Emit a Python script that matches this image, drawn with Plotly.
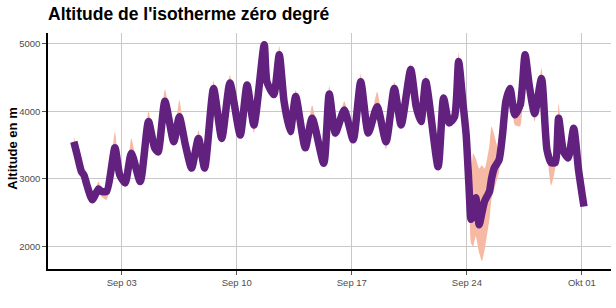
import plotly.graph_objects as go

# ---- data (time, isotherm altitude, ensemble min, ensemble max) ----
times = [
    "2023-08-31 02:00", "2023-08-31 07:00", "2023-08-31 13:00", "2023-08-31 17:00", "2023-08-31 21:00",
    "2023-09-01 05:00", "2023-09-01 14:00", "2023-09-01 18:00", "2023-09-02 02:00", "2023-09-02 14:00",
    "2023-09-02 21:00", "2023-09-03 05:00", "2023-09-03 14:00", "2023-09-04 03:00", "2023-09-04 15:00",
    "2023-09-05 00:00", "2023-09-05 05:00", "2023-09-05 15:00", "2023-09-06 04:00", "2023-09-06 12:00",
    "2023-09-06 21:00", "2023-09-07 06:00", "2023-09-07 16:00", "2023-09-08 01:00", "2023-09-08 14:00",
    "2023-09-09 02:00", "2023-09-09 14:00", "2023-09-10 05:00", "2023-09-10 15:00", "2023-09-11 01:00",
    "2023-09-11 16:00", "2023-09-11 20:00", "2023-09-12 06:00", "2023-09-12 14:00", "2023-09-12 21:00",
    "2023-09-13 06:00", "2023-09-13 14:00", "2023-09-14 04:00", "2023-09-14 14:00", "2023-09-15 07:00",
    "2023-09-15 15:00", "2023-09-16 00:00", "2023-09-16 13:00", "2023-09-17 02:00", "2023-09-17 13:00",
    "2023-09-18 00:00", "2023-09-18 13:00", "2023-09-19 02:00", "2023-09-19 14:00", "2023-09-20 00:00",
    "2023-09-20 14:00", "2023-09-20 22:00", "2023-09-21 05:00", "2023-09-21 12:00", "2023-09-22 06:00",
    "2023-09-22 14:00", "2023-09-22 22:00", "2023-09-23 06:00", "2023-09-23 12:00", "2023-09-23 18:00",
    "2023-09-23 23:00", "2023-09-24 03:00", "2023-09-24 06:00", "2023-09-24 09:00", "2023-09-24 13:00",
    "2023-09-24 18:00", "2023-09-24 22:00", "2023-09-25 02:00", "2023-09-25 09:00", "2023-09-25 12:00",
    "2023-09-25 16:00", "2023-09-25 23:00", "2023-09-26 04:00", "2023-09-26 09:00", "2023-09-26 15:00",
    "2023-09-26 22:00", "2023-09-27 06:00", "2023-09-27 13:00", "2023-09-27 19:00", "2023-09-28 03:00",
    "2023-09-28 13:00", "2023-09-28 21:00", "2023-09-29 03:00", "2023-09-29 09:00", "2023-09-29 14:00",
    "2023-09-29 21:00", "2023-09-30 04:00", "2023-09-30 12:00", "2023-09-30 19:00", "2023-10-01 00:00",
    "2023-10-01 03:00",
]

altitude = [
    3550, 3350, 3110, 3050, 2910,
    2690, 2850, 2815, 2815, 3460,
    3060, 2940, 3380, 2960, 3850,
    3460, 3400, 4150, 3550, 3920,
    3500, 3160, 3600, 3160, 4340,
    3600, 4420, 3650, 4390, 3800,
    4990, 4440, 4250, 4840, 4150,
    3700, 4220, 3460, 3900, 3230,
    4260, 3680, 4020, 3580, 4440,
    3680, 4070, 3550, 4340, 3800,
    4620, 4070, 3850, 4440, 3180,
    4200, 3830, 3920, 4740, 4150,
    3650, 2910, 2400, 2560, 2720,
    2320, 2500, 2670, 2815, 3000,
    3160, 3280, 3650, 4150, 4340,
    3950, 4100, 4840, 4390, 3970,
    4490, 3430, 3240, 3240, 3900,
    3410, 3310, 3750, 3140, 2790,
    2590,
]

alt_min = [
    3510, 3310, 3070, 3010, 2870,
    2650, 2780, 2740, 2690, 3400,
    3020, 2900, 3340, 2900, 3800,
    3420, 3360, 4100, 3510, 3880,
    3460, 3110, 3560, 3090, 4300,
    3540, 4380, 3600, 4350, 3680,
    4950, 4400, 4210, 4800, 4110,
    3660, 4180, 3420, 3860, 3190,
    4220, 3610, 3980, 3540, 4400,
    3640, 4030, 3440, 4300, 3760,
    4580, 4030, 3810, 4400, 3140,
    4160, 3790, 3880, 4700, 4110,
    3610, 2870, 2050, 2000, 2150,
    1900, 1780, 1950, 2400, 2700,
    2850, 3100, 3600, 4100, 4300,
    3800, 3780, 4800, 4350, 3850,
    4450, 3390, 2900, 3150, 3860,
    3370, 3250, 3710, 3100, 2750,
    2550,
]

alt_max = [
    3640, 3390, 3150, 3090, 2950,
    2730, 2960, 2870, 2860, 3700,
    3100, 2980, 3600, 3000, 4000,
    3500, 3440, 4330, 3590, 4170,
    3540, 3200, 3720, 3200, 4450,
    3640, 4540, 3690, 4450, 3840,
    5030, 4480, 4290, 4970, 4190,
    3740, 4320, 3500, 4090, 3270,
    4380, 3720, 4150, 3620, 4550,
    3720, 4290, 3590, 4440, 3840,
    4700, 4110, 3890, 4540, 3220,
    4260, 3870, 3960, 4870, 4190,
    3690, 2950, 3000, 3380, 3300,
    3150, 3200, 3150, 3500, 3780,
    3650, 3400, 3700, 4190, 4400,
    3990, 4300, 4880, 4430, 4010,
    4640, 3470, 3280, 3280, 4120,
    3450, 3350, 3790, 3180, 2830,
    2630,
]

x_tick_vals = ["2023-09-03", "2023-09-10", "2023-09-17", "2023-09-24", "2023-10-01"]
x_tick_text = ["Sep 03", "Sep 10", "Sep 17", "Sep 24", "Okt 01"]
y_tick_vals = [2000, 3000, 4000, 5000]

title_text = "Altitude de l'isotherme zéro degré"
y_title = "Altitude en m"

# ---- figure ----
fig = go.Figure()
fig.add_trace(go.Scatter(x=times, y=alt_min, mode="lines",
                         line=dict(width=0, shape="spline", smoothing=0.5),
                         hoverinfo="skip", showlegend=False))
fig.add_trace(go.Scatter(x=times, y=alt_max, mode="lines",
                         line=dict(width=0, shape="spline", smoothing=0.5),
                         fill="tonexty", fillcolor="#f6b9a4",
                         hoverinfo="skip", showlegend=False))
fig.add_trace(go.Scatter(x=times, y=altitude, mode="lines",
                         line=dict(color="#62207f", width=7.5, shape="spline", smoothing=0.6),
                         showlegend=False))

font_family = "Liberation Sans, Arial, sans-serif"

fig.update_layout(
    width=616, height=308,
    margin=dict(l=48, r=5, t=33, b=39),
    paper_bgcolor="white", plot_bgcolor="white",
    font=dict(family=font_family, size=10, color="#4d4d4d"),
    title=dict(text="<b>" + title_text + "</b>", x=0, xref="paper", xanchor="left",
               y=1 - 13.5 / 308, yref="container", yanchor="middle",
               font=dict(family=font_family, size=17.5, color="black")),
    annotations=[dict(text="<b>" + y_title + "</b>", textangle=-90,
                      x=-35 / 563, xref="paper", xanchor="center",
                      y=0.51, yref="paper", yanchor="middle", showarrow=False,
                      font=dict(family=font_family, size=13, color="black"))],
)

fig.update_xaxes(
    type="date",
    range=["2023-08-29 12:15", "2023-10-02 18:30"],
    tickvals=x_tick_vals, ticktext=x_tick_text,
    showgrid=True, gridcolor="#c8c8c8", gridwidth=1,
    showline=True, linecolor="black", linewidth=1.5,
    ticks="outside", ticklen=4, tickcolor="#555555",
    tickfont=dict(size=9.5, color="#4d4d4d"),
    zeroline=False,
)
fig.update_yaxes(
    range=[1663, 5163],
    tickvals=y_tick_vals,
    showgrid=True, gridcolor="#c8c8c8", gridwidth=1,
    showline=True, linecolor="black", linewidth=1.5,
    ticks="outside", ticklen=4, tickcolor="#555555",
    tickfont=dict(size=9.5, color="#4d4d4d"),
    zeroline=False,
)

fig.write_html("out.html")
